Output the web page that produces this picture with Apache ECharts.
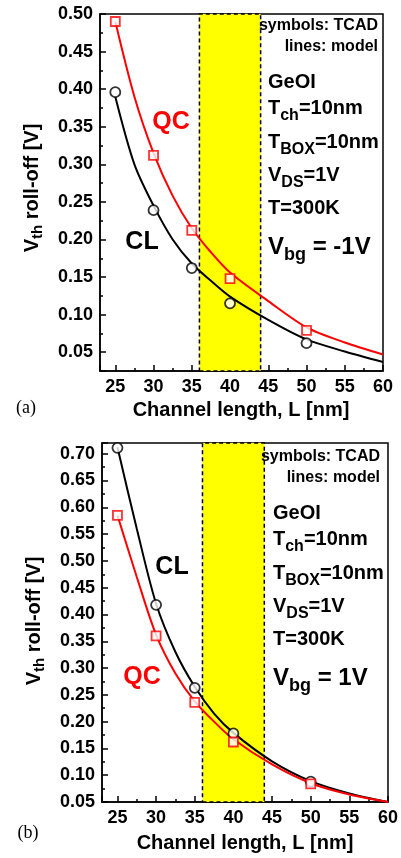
<!DOCTYPE html>
<html>
<head>
<meta charset="utf-8">
<script src="https://cdn.jsdelivr.net/npm/echarts@6.0.0/dist/echarts.min.js"></script>
<style>
html, body { margin: 0; padding: 0; background: #fff; }
#chart { width: 401px; height: 858px; }
</style>
</head>
<body>
<div id="chart"></div>
<script>
// channel length grid used for the model curves (nm)
var modelL = [25, 27.5, 30, 32.5, 35, 37.5, 40, 45, 50, 55, 60]
// TCAD points are at these lengths
var tcadL = [25, 30, 35, 40, 50]

// (a) Vbg = -1V
var qcModelA = [0.49, 0.39, 0.315, 0.258, 0.215, 0.183, 0.156, 0.118, 0.083, 0.063, 0.047]
var clModelA = [0.39, 0.30, 0.245, 0.200, 0.168, 0.145, 0.124, 0.093, 0.067, 0.051, 0.037]
var qcTcadA = [0.49, 0.312, 0.212, 0.148, 0.079]
var clTcadA = [0.396, 0.239, 0.162, 0.115, 0.062]

// (b) Vbg = 1V
var qcModelB = [0.585, 0.47, 0.362, 0.29, 0.238, 0.200, 0.167, 0.120, 0.085, 0.064, 0.050]
var clModelB = [0.712, 0.56, 0.42, 0.33, 0.265, 0.215, 0.179, 0.126, 0.089, 0.066, 0.050]
var qcTcadB = [0.585, 0.36, 0.236, 0.162, 0.084]
var clTcadB = [0.711, 0.418, 0.263, 0.178, 0.088]

// shaded range of channel lengths
var band = [36, 44]

var FONT = 'Liberation Sans, Arial, sans-serif'
var RED = '#ff0000'

function pairs (xs, ys) {
  return xs.map(function (x, i) { return [x, ys[i]] })
}

function xAxisFor (idx) {
  return {
    type: 'value',
    gridIndex: idx,
    min: 23,
    max: 60,
    splitNumber: 7,
    axisLine: { show: true, lineStyle: { color: '#000', width: 1.5 } },
    axisTick: { show: true, inside: true, length: 6, lineStyle: { color: '#000', width: 1.5 } },
    minorTick: { show: true, splitNumber: 2, length: 3, lineStyle: { color: '#000', width: 1.5 } },
    splitLine: { show: false },
    axisLabel: {
      margin: 7,
      color: '#000',
      fontSize: 18,
      fontWeight: 'bold',
      fontFamily: FONT,
      formatter: function (v) { return v % 5 === 0 ? String(v) : '' }
    }
  }
}

function yAxisFor (idx, min, max, split) {
  return {
    type: 'value',
    gridIndex: idx,
    min: min,
    max: max,
    splitNumber: split,
    axisLine: { show: true, lineStyle: { color: '#000', width: 1.5 } },
    axisTick: { show: true, inside: true, length: 6, lineStyle: { color: '#000', width: 1.5 } },
    minorTick: { show: true, splitNumber: 2, length: 3, lineStyle: { color: '#000', width: 1.5 } },
    splitLine: { show: false },
    axisLabel: {
      margin: 7,
      color: '#000',
      fontSize: 18,
      fontWeight: 'bold',
      fontFamily: FONT,
      formatter: function (v) {
        var k = v / 0.05
        return Math.abs(k - Math.round(k)) < 1e-6 ? v.toFixed(2) : ''
      }
    }
  }
}

function bandSeries (idx) {
  return {
    type: 'line',
    xAxisIndex: idx,
    yAxisIndex: idx,
    data: [],
    z: 1,
    silent: true,
    markArea: {
      silent: true,
      itemStyle: { color: '#ffff00', borderColor: '#000', borderWidth: 1.5, borderType: [4, 3] },
      data: [[{ xAxis: band[0] }, { xAxis: band[1] }]]
    }
  }
}

function modelSeries (idx, ys, color) {
  return {
    type: 'line',
    xAxisIndex: idx,
    yAxisIndex: idx,
    data: pairs(modelL, ys),
    smooth: 0.3,
    showSymbol: false,
    z: 3,
    lineStyle: { color: color, width: 2 }
  }
}

function tcadSeries (idx, ys, color, shape, size) {
  return {
    type: 'scatter',
    xAxisIndex: idx,
    yAxisIndex: idx,
    data: pairs(tcadL, ys),
    symbol: shape,
    symbolSize: size,
    z: 4,
    itemStyle: { color: '#fff', borderColor: color, borderWidth: 1.8 }
  }
}

function txt (x, y, text, rich, extra) {
  var style = { x: x, y: y, text: text, rich: rich, fill: '#000', verticalAlign: 'middle' }
  for (var k in extra) style[k] = extra[k]
  return { type: 'text', z: 10, style: style }
}

var richInfo = {
  a: { fontSize: 20, fontWeight: 'bold', fontFamily: FONT },
  s: { fontSize: 16, fontWeight: 'bold', fontFamily: FONT, padding: [15, 0, 0, 0] }
}
var richVbg = {
  a: { fontSize: 24, fontWeight: 'bold', fontFamily: FONT },
  s: { fontSize: 18, fontWeight: 'bold', fontFamily: FONT, padding: [16, 0, 0, 0] }
}
var richSmall = {
  a: { fontSize: 16, fontWeight: 'bold', fontFamily: FONT }
}
var richYName = {
  a: { fontSize: 20, fontWeight: 'bold', fontFamily: FONT },
  s: { fontSize: 15, fontWeight: 'bold', fontFamily: FONT, padding: [12, 0, 0, 0] }
}

function infoBlock (left, right, y0, vbg) {
  return [
    txt(right, y0, '{a|symbols: TCAD}', richSmall, { align: 'right' }),
    txt(right, y0 + 21, '{a|lines: model}', richSmall, { align: 'right' }),
    txt(left, y0 + 56, '{a|GeOI}', richInfo),
    txt(left, y0 + 82, '{a|T}{s|ch}{a|=10nm}', richInfo),
    txt(left, y0 + 116, '{a|T}{s|BOX}{a|=10nm}', richInfo),
    txt(left, y0 + 149, '{a|V}{s|DS}{a|=1V}', richInfo),
    txt(left, y0 + 182, '{a|T=300K}', richInfo),
    txt(left, y0 + 221, '{a|V}{s|bg}{a| = ' + vbg + '}', richVbg)
  ]
}

function curveLabel (x, y, text, color) {
  return {
    type: 'text', z: 10,
    style: { x: x, y: y, text: text, fill: color, fontSize: 25, fontWeight: 'bold', fontFamily: FONT, align: 'center', verticalAlign: 'middle' }
  }
}

function axisName (x, y, text, horizontal) {
  return {
    type: 'text', z: 10,
    x: x, y: y, rotation: horizontal ? 0 : Math.PI / 2,
    style: {
      x: 0, y: 0, text: text, rich: richYName, fill: '#000',
      fontSize: 20, fontWeight: 'bold', fontFamily: FONT,
      align: 'center', verticalAlign: 'middle'
    }
  }
}

function panelTag (x, y, text) {
  return {
    type: 'text', z: 10,
    style: { x: x, y: y, text: text, fill: '#000', fontSize: 18, fontFamily: 'Liberation Serif, Times New Roman, serif', align: 'center', verticalAlign: 'middle' }
  }
}

var chart = echarts.init(document.getElementById('chart'))
chart.setOption({
  backgroundColor: '#fff',
  animation: false,
  grid: [
    { left: 100, top: 14, width: 283, height: 357, show: true, borderColor: '#000', borderWidth: 1.5 },
    { left: 102, top: 443, width: 286, height: 359, show: true, borderColor: '#000', borderWidth: 1.5 }
  ],
  xAxis: [xAxisFor(0), xAxisFor(1)],
  yAxis: [yAxisFor(0, 0.025, 0.5, 10), yAxisFor(1, 0.05, 0.72, 13)],
  series: [
    bandSeries(0),
    modelSeries(0, clModelA, '#000'),
    modelSeries(0, qcModelA, RED),
    tcadSeries(0, clTcadA, '#000', 'circle', 10),
    tcadSeries(0, qcTcadA, RED, 'rect', 9),
    bandSeries(1),
    modelSeries(1, clModelB, '#000'),
    modelSeries(1, qcModelB, RED),
    tcadSeries(1, clTcadB, '#000', 'circle', 10),
    tcadSeries(1, qcTcadB, RED, 'rect', 9)
  ],
  graphic: [].concat(
    infoBlock(268, 378, 26, '-1V'),
    infoBlock(273, 380, 457, '1V'),
    [
      curveLabel(171, 122, 'QC', RED),
      curveLabel(142, 242, 'CL', '#000'),
      curveLabel(172, 567, 'CL', '#000'),
      curveLabel(142, 677, 'QC', RED),
      axisName(32, 188, '{a|V}{s|th}{a| roll-off [V]}'),
      axisName(34, 621, '{a|V}{s|th}{a| roll-off [V]}'),
      axisName(241, 410, 'Channel length, L [nm]', true),
      axisName(245, 843, 'Channel length, L [nm]', true),
      panelTag(26, 408, '(a)'),
      panelTag(28, 833, '(b)')
    ]
  )
})
</script>
</body>
</html>
